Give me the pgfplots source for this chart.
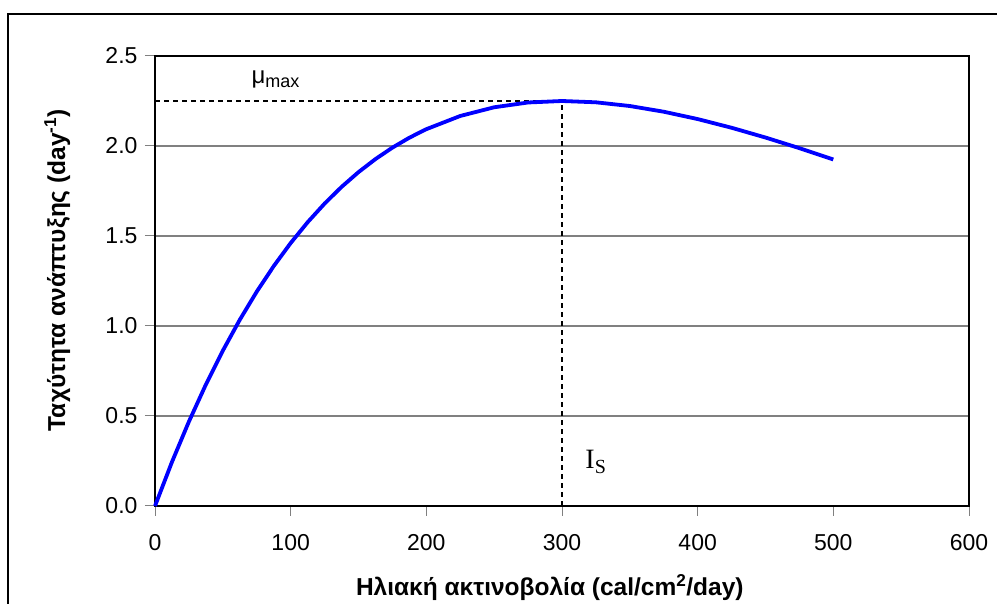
\documentclass[border=0pt]{standalone}
\usepackage{fontspec}
\setmainfont{Liberation Sans}
\newfontfamily\timesfont{Liberation Serif}
\usepackage{pgfplots}
\pgfplotsset{compat=1.18}
\begin{document}
\begin{tikzpicture}
\useasboundingbox (0pt,0pt) rectangle (997pt,604pt);
\draw[line width=1.5pt] (8pt,0pt) -- (8pt,590pt) -- (997pt,590pt);
\begin{axis}[
  at={(155pt,98pt)}, anchor=south west,
  width=814pt, height=450pt, scale only axis,
  xmin=0, xmax=600, ymin=0, ymax=2.5,
  xtick={0,100,...,600}, ytick={0,0.5,...,2.5},
  yticklabel style={xshift=-4pt, /pgf/number format/fixed, /pgf/number format/fixed zerofill, /pgf/number format/precision=1},
  /pgf/number format/assume math mode=true,
  ymajorgrids, grid style={line width=1.2pt, gray},
  axis line style={line width=1.5pt, black},
  tick style={line width=1pt, gray},
  tick align=outside, major tick length=10pt,
  xtick pos=bottom, ytick pos=left,
  ticklabel style={font=\fontsize{23}{27}\selectfont, black},
  xticklabel style={yshift=-15pt},
  xlabel={\textbf{Ηλιακή ακτινοβολία (cal/cm\textsuperscript{2}/day)}},
  ylabel={\textbf{Ταχύτητα ανάπτυξης (day\textsuperscript{-1})}},
  label style={font=\fontsize{24.5}{28}\selectfont},
  xlabel style={at={(axis description cs:0.485,-0.182)}, anchor=center},
  ylabel style={at={(axis description cs:-0.12,0.524)}, anchor=center},
  clip=false,
]
\addplot[black, line width=1.5pt, dash pattern=on 5pt off 4pt] coordinates {(0,2.25) (300,2.25)};
\addplot[black, line width=1.5pt, dash pattern=on 5pt off 4pt] coordinates {(300,0) (300,2.25)};
\addplot[color={rgb,255:red,0;green,0;blue,255}, line width=3.8pt, line join=round] coordinates {
(0,0) (12.5,0.2444) (25,0.4689) (37.5,0.6747) (50,0.8629) (62.5,1.0345) (75,1.1908)
(87.5,1.3326) (100,1.4608) (112.5,1.5763) (125,1.680) (137.5,1.7726) (150,1.8548)
(162.5,1.9273) (175,1.9909) (187.5,2.0461) (200,2.0934) (225,2.1668) (250,2.2151)
(275,2.2417) (300,2.25) (325,2.2427) (350,2.2221) (375,2.1904) (400,2.1496)
(425,2.1013) (450,2.0470) (475,1.9880) (500,1.9252)
};
\node[font=\fontsize{24}{28}\selectfont] at (axis cs:89,2.37) {μ\textsubscript{\fontsize{18}{21}\selectfont max}};
\node[font=\timesfont\fontsize{28}{32}\selectfont] at (axis cs:325,0.245) {I\textsubscript{\fontsize{20}{23}\selectfont S}};
\end{axis}
\end{tikzpicture}
\end{document}
